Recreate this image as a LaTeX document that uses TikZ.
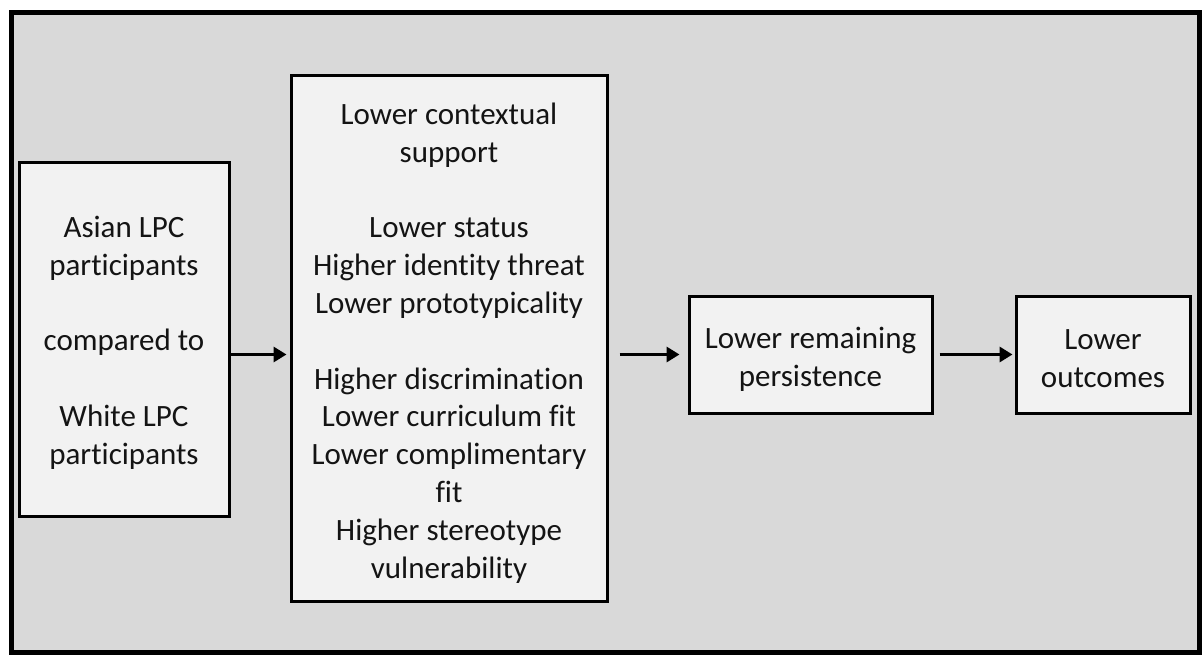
\documentclass[tikz,border=0pt]{standalone}
\usepackage{fontspec}
\setmainfont[Ligatures=NoCommon]{Carlito}
\usetikzlibrary{arrows.meta}
\definecolor{bggray}{HTML}{D9D9D9}
\definecolor{boxgray}{HTML}{F2F2F2}
\definecolor{txt}{HTML}{141414}
\tikzset{
  frame/.style={draw=black, line width=5pt, fill=bggray},
  box/.style={draw=black, line width=3pt, fill=boxgray, inner sep=0pt},
  boxtext/.style={inner sep=0pt, align=center, text=txt,
    font=\fontsize{31}{37.8}\selectfont},
  arr/.style={line width=3.5pt, -{Triangle[length=13pt,width=15pt]}}
}
\begin{document}
\begin{tikzpicture}[x=1pt,y=-1pt]
\useasboundingbox (0,0) rectangle (1202,655);
\fill[white] (0,0) rectangle (1202,655);
\draw[frame] (11,12.5) rectangle (1199.5,652.5);
\node[box, minimum width=210pt, minimum height=353pt] (b1) at (124,339.5) {};
\node[box, minimum width=316pt, minimum height=525pt] (b2) at (449,338.5) {};
\node[box, minimum width=243pt, minimum height=117pt] (b3) at (810.5,354.5) {};
\node[box, minimum width=174pt, minimum height=117pt] (b4) at (1103,354.5) {};
\node[boxtext] (t1) at ([yshift=-3pt]b1.center)
  {Asian LPC\\participants\\[37.8pt]compared to\\[37.8pt]White LPC\\participants};
\node[boxtext] (t2) at ([yshift=-4.5pt]b2.center)
  {Lower contextual\\support\\[37.8pt]Lower status\\Higher identity threat\\Lower prototypicality\\[37.8pt]Higher discrimination\\Lower curriculum fit\\Lower complimentary\\fit\\Higher stereotype\\vulnerability};
\node[boxtext] (t3) at ([yshift=-4.5pt]b3.center) {Lower remaining\\persistence};
\node[boxtext] (t4) at ([yshift=-4.5pt]b4.center) {Lower\\outcomes};
\draw[arr] (b1.east |- b3.west) -- ([xshift=-3pt]b2.west |- b3.west);
\draw[arr, shorten <=11pt] (b2.east |- b3.west) -- ([xshift=-8pt]b3.west);
\draw[arr, shorten <=6pt] (b3.east) -- ([xshift=-2pt]b4.west);
\end{tikzpicture}
\end{document}
